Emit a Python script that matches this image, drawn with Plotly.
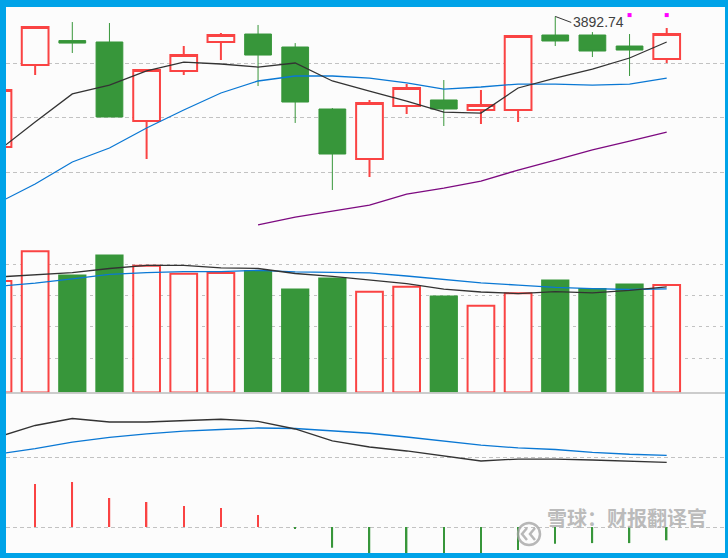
import plotly.graph_objects as go
from plotly.subplots import make_subplots

# ===== 数据 =====
idx = list(range(19))

# K线 (开, 高, 低, 收)
price_open = [3772.9, 3848.2, 3870.6, 3869.3, 3796.8, 3842.7, 3869.3, 3876.6, 3864.7, 3807.8,
              3761.9, 3810.6, 3816.1, 3806.9, 3806.9, 3875.7, 3875.7, 3865.6, 3853.7]
price_high = [3826.5, 3883.0, 3887.6, 3886.7, 3843.6, 3865.6, 3877.5, 3884.9, 3868.3, 3808.7,
              3816.1, 3830.7, 3834.4, 3825.2, 3874.8, 3892.74, 3878.4, 3876.6, 3882.1]
price_low = [3772.0, 3839.0, 3859.2, 3800.5, 3761.9, 3839.0, 3852.8, 3828.9, 3795.0, 3733.5,
             3745.4, 3803.2, 3792.2, 3794.0, 3795.9, 3865.6, 3855.5, 3838.1, 3850.0]
price_close = [3825.2, 3883.0, 3868.3, 3800.5, 3843.6, 3857.3, 3875.7, 3857.3, 3814.2, 3766.5,
               3813.3, 3827.1, 3807.8, 3811.5, 3874.8, 3870.2, 3861.0, 3861.9, 3876.6]

ma5 = [3769.3, 3795.9, 3821.6, 3829.8, 3842.7, 3850.9, 3849.1, 3846.3, 3850.0, 3833.5,
       3824.3, 3815.1, 3805.0, 3804.1, 3827.1, 3836.2, 3844.5, 3854.6, 3869.3]
ma10 = [3721.6, 3739.0, 3759.2, 3772.0, 3790.4, 3806.9, 3822.5, 3833.5, 3838.1, 3838.1,
        3836.2, 3831.7, 3826.1, 3828.0, 3830.7, 3830.7, 3829.8, 3830.7, 3836.2]
ma60 = [None] * 7 + [3701.4, 3708.7, 3714.2, 3719.7, 3729.8, 3735.3, 3741.7, 3751.8,
                     3761.0, 3770.2, 3778.4, 3786.7]

high_label = "3892.74"
signal_idx = [17, 18]
signal_price = [3894.0, 3894.0]

# 成交量
volume = [356, 451, 377, 441, 405, 379, 382, 391, 332, 367,
          322, 338, 310, 277, 317, 361, 334, 348, 343]
vol_ma5 = [369, 375, 383, 396, 406, 406, 398, 396, 380, 371,
           359, 348, 330, 321, 316, 322, 318, 326, 337]
vol_ma10 = [339, 349, 363, 377, 383, 386, 386, 390, 385, 383,
            382, 372, 361, 350, 343, 336, 332, 329, 331]

# MACD
dif = [12.86, 14.5, 15.5, 15.0, 15.0, 15.19, 15.39, 15.1, 14.0, 12.29,
       11.43, 10.86, 10.1, 9.43, 9.71, 9.71, 9.57, 9.39, 9.24]
dea = [10.43, 11.19, 12.14, 12.79, 13.29, 13.71, 13.93, 14.14, 14.07, 13.76,
       13.39, 12.86, 12.29, 11.71, 11.29, 11.07, 10.67, 10.39, 10.24]
macd_hist = [4.9, 6.14, 6.43, 4.14, 3.57, 3.0, 2.71, 1.71, -0.19, -2.96,
             -4.3, -4.6, -5.0, -5.1, -3.3, -2.4, -2.3, -2.3, -1.9]

price_grid = [3750, 3800, 3850]
vol_grid = [110, 210, 310, 410]
macd_grid = [0, 10]

# ===== 颜色 =====
RED = "#fa4343"
GREEN = "#37963a"
BLACK = "#333333"
BLUE = "#0a78d4"
PURPLE = "#7d0a80"
BORDER = "#00a3e8"
BG = "#fcfcfc"
GRID = "#c2c2c2"
MARK = "rgba(165,165,165,0.8)"

W, H = 728, 558
ML, MR, MT, MB = 6, 3, 7, 5
PW, PH = W - ML - MR, H - MT - MB


def px_x(px):
    return (px - ML) / PW


def px_y(py):
    return (H - MB - py) / PH


up = [c >= o for o, c in zip(price_open, price_close)]

fig = make_subplots(rows=3, cols=1, shared_xaxes=True, vertical_spacing=0.0)

# ----- K线 -----
fig.add_trace(go.Candlestick(
    x=idx, open=price_open, high=price_high, low=price_low, close=price_close,
    increasing=dict(line=dict(color=RED, width=2), fillcolor=BG),
    decreasing=dict(line=dict(color=GREEN, width=1), fillcolor=GREEN),
    whiskerwidth=0, hoverinfo="skip", showlegend=False,
), row=1, col=1)

for vals, color in [(ma60, PURPLE), (ma10, BLUE), (ma5, BLACK)]:
    fig.add_trace(go.Scatter(x=idx, y=vals, mode="lines", line=dict(color=color, width=1.3),
                             hoverinfo="skip", showlegend=False), row=1, col=1)

fig.add_trace(go.Scatter(x=signal_idx, y=signal_price, mode="markers",
                         marker=dict(symbol="square", size=4, color="#ff00ff"),
                         hoverinfo="skip", showlegend=False), row=1, col=1)

# ----- 成交量 -----
up_x = [i for i in idx if up[i]]
dn_x = [i for i in idx if not up[i]]
fig.add_trace(go.Bar(x=up_x, y=[volume[i] for i in up_x], width=0.72,
                     marker=dict(color=BG, line=dict(color=RED, width=2)),
                     hoverinfo="skip", showlegend=False), row=2, col=1)
fig.add_trace(go.Bar(x=dn_x, y=[volume[i] for i in dn_x], width=0.76,
                     marker=dict(color=GREEN, line=dict(width=0)),
                     hoverinfo="skip", showlegend=False), row=2, col=1)
for vals, color in [(vol_ma10, BLUE), (vol_ma5, BLACK)]:
    fig.add_trace(go.Scatter(x=idx, y=vals, mode="lines", line=dict(color=color, width=1.3),
                             hoverinfo="skip", showlegend=False), row=2, col=1)

# ----- MACD -----
fig.add_trace(go.Bar(x=idx, y=macd_hist, width=0.04,
                     marker=dict(color=[RED if v >= 0 else GREEN for v in macd_hist], line=dict(width=0)),
                     hoverinfo="skip", showlegend=False), row=3, col=1)
for vals, color in [(dea, BLUE), (dif, BLACK)]:
    fig.add_trace(go.Scatter(x=idx, y=vals, mode="lines", line=dict(color=color, width=1.3),
                             hoverinfo="skip", showlegend=False), row=3, col=1)

# ===== 布局 =====
x_range = [(ML + 2) / 37.15, (W - MR + 2) / 37.15]
fig.update_xaxes(range=x_range, showgrid=False, zeroline=False, showticklabels=False,
                 showline=False, rangeslider_visible=False, fixedrange=True)

fig.update_layout(
    width=W, height=H,
    margin=dict(l=ML, r=MR, t=MT, b=MB),
    paper_bgcolor=BORDER,
    plot_bgcolor=BG,
    barmode="overlay",
    boxgap=0.28, boxgroupgap=0,
    showlegend=False,
    hovermode=False,
    yaxis=dict(domain=[px_y(238), 1], range=[3689.45, 3901.4], tickvals=price_grid,
               showticklabels=False, gridcolor=GRID, griddash="4px,3px", gridwidth=1, zeroline=False),
    yaxis2=dict(domain=[px_y(392.5), px_y(240)], range=[0, 487], tickvals=vol_grid,
                showticklabels=False, gridcolor=GRID, griddash="3px,4px", gridwidth=1, zeroline=False),
    yaxis3=dict(domain=[0, px_y(394)], range=[-3.714, 19.0], tickvals=macd_grid,
                showticklabels=False, gridcolor=GRID, griddash="4px,3px", gridwidth=1, zeroline=False),
)

# 背景与分隔线
fig.add_shape(type="rect", xref="paper", yref="paper", x0=0, x1=1, y0=0, y1=1,
              fillcolor=BG, line=dict(width=0), layer="below")
fig.add_shape(type="line", xref="paper", yref="paper", x0=0, x1=1, y0=px_y(393), y1=px_y(393),
              line=dict(color="#bdbdbd", width=1.5))

# 最高价标注
fig.add_annotation(x=15, y=price_high[15], xref="x", yref="y", text=high_label,
                   showarrow=True, arrowhead=0, arrowwidth=1, arrowcolor=BLACK,
                   ax=16, ay=6, xanchor="left", yanchor="middle",
                   font=dict(family="Liberation Sans, Arial", size=14, color="#404040"))

# 水印 (雪球 logo + 文字)
fig.add_shape(type="circle", xref="paper", yref="paper",
              x0=px_x(518), x1=px_x(540), y0=px_y(545), y1=px_y(523),
              line=dict(color=MARK, width=2.5))
chev = "M {a},{b} L {c},{d} L {a},{e} M {f},{b} L {g},{d} L {f},{e}".format(
    a=px_x(527), b=px_y(528), c=px_x(522), d=px_y(534), e=px_y(540),
    f=px_x(535), g=px_x(530))
fig.add_shape(type="path", xref="paper", yref="paper", path=chev,
              line=dict(color=MARK, width=2.5))
fig.add_annotation(x=px_x(545), y=px_y(534), xref="paper", yref="paper",
                   text="<b>雪球：财报翻译官</b>", showarrow=False, xanchor="left",
                   font=dict(family="Noto Sans CJK SC", size=20, color="rgba(175,175,175,0.85)"))

# 去掉页面默认边距, 让图与窗口对齐; 不显示工具栏
fig.write_html("out.html", config={"displayModeBar": False},
               post_script="document.body.style.margin='0';")
